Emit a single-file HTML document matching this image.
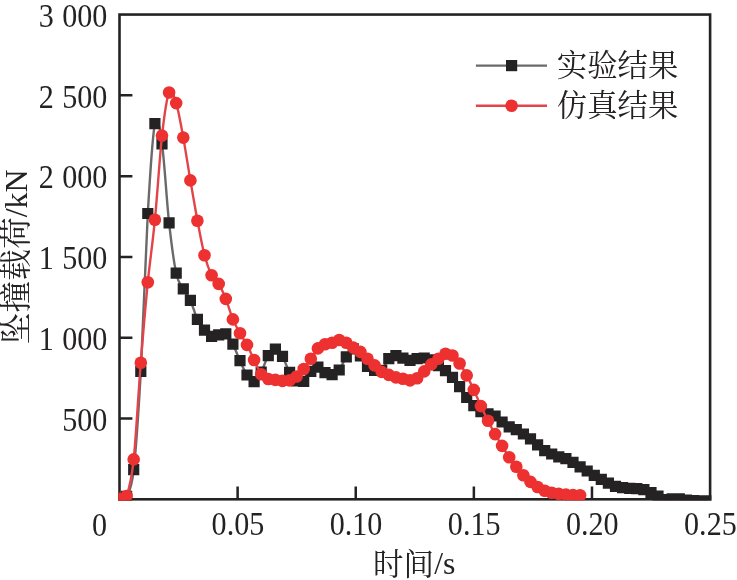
<!DOCTYPE html><html><head><meta charset="utf-8"><title>chart</title><style>html,body{margin:0;padding:0;background:#fff}svg{display:block;will-change:transform}text{font-family:"Liberation Serif","Noto Serif CJK SC",serif;fill:#252223}</style></head><body>
<svg width="737" height="580" viewBox="0 0 737 580">
<rect width="737" height="580" fill="#fff"/>
<defs><clipPath id="c"><rect x="118.20" y="13.25" width="593.20" height="487.35"/></clipPath></defs>
<rect x="119.50" y="14.55" width="590.60" height="484.75" fill="none" stroke="#252223" stroke-width="2.60"/>
<path d="M237.62 499.30V486.40M355.74 499.30V486.40M473.86 499.30V486.40M591.98 499.30V486.40M119.50 418.51H132.40M119.50 337.72H132.40M119.50 256.93H132.40M119.50 176.13H132.40M119.50 95.34H132.40" stroke="#252223" stroke-width="2.50" fill="none"/>
<g clip-path="url(#c)">
<path d="M119.5 498.4C120.7 498.1 124.2 501.2 126.6 496.4C128.9 491.7 131.3 490.6 133.7 469.8C136.0 448.9 138.4 414.2 140.8 371.6C143.1 328.9 145.5 254.9 147.8 213.5C150.2 172.2 152.6 135.2 154.9 123.7C157.3 112.1 159.7 127.4 162.0 143.9C164.4 160.5 166.7 201.3 169.1 222.8C171.5 244.4 173.8 262.1 176.2 273.1C178.5 284.2 180.9 284.4 183.3 288.9C185.6 293.5 188.0 295.4 190.4 300.4C192.7 305.5 195.1 314.5 197.4 319.4C199.8 324.4 202.2 327.3 204.5 330.1C206.9 333.0 209.3 335.5 211.6 336.3C214.0 337.1 216.3 335.3 218.7 334.9C221.1 334.6 223.4 332.4 225.8 333.9C228.2 335.5 230.5 339.8 232.9 344.2C235.2 348.7 237.6 355.6 240.0 360.8C242.3 365.9 244.7 371.6 247.0 375.1C249.4 378.6 251.8 382.2 254.1 381.8C256.5 381.2 258.9 376.4 261.2 372.1C263.6 367.7 265.9 359.5 268.3 355.6C270.7 351.8 273.0 349.0 275.4 349.1C277.8 349.3 280.1 352.6 282.5 356.4C284.8 360.3 287.2 368.4 289.6 372.4C291.9 376.5 294.3 379.4 296.6 380.9C299.0 382.4 301.4 383.0 303.7 381.4C306.1 379.9 308.5 373.8 310.8 371.4C313.2 369.1 315.5 367.1 317.9 367.2C320.3 367.4 322.6 371.4 325.0 372.6C327.4 373.9 329.7 375.2 332.1 374.8C334.4 374.3 336.8 373.0 339.2 370.1C341.5 367.1 343.9 360.5 346.3 356.9C348.6 353.4 351.0 349.0 353.3 348.8C355.7 348.7 358.1 352.9 360.4 355.8C362.8 358.8 365.1 364.1 367.5 366.6C369.9 369.0 372.2 369.8 374.6 370.4C377.0 371.1 379.3 372.4 381.7 370.4C384.0 368.5 386.4 361.1 388.8 358.6C391.1 356.2 393.5 355.7 395.9 355.6C398.2 355.6 400.6 357.4 402.9 358.1C405.3 358.9 407.7 360.3 410.0 360.3C412.4 360.4 414.8 359.0 417.1 358.6C419.5 358.3 421.8 357.8 424.2 358.1C426.6 358.3 428.9 358.7 431.3 359.9C433.6 361.2 436.0 364.0 438.4 365.8C440.7 367.5 443.1 368.7 445.5 370.6C447.8 372.6 450.2 374.8 452.5 377.4C454.9 380.1 457.3 383.4 459.6 386.8C462.0 390.1 464.4 394.4 466.7 397.6C469.1 400.7 471.4 403.4 473.8 405.8C476.2 408.1 478.5 410.3 480.9 411.6C483.2 413.0 485.6 413.1 488.0 413.8C490.3 414.6 492.7 414.7 495.1 416.1C497.4 417.4 499.8 420.2 502.1 422.1C504.5 423.9 506.9 425.6 509.2 426.8C511.6 428.1 514.0 428.6 516.3 429.8C518.7 430.9 521.0 432.5 523.4 434.1C525.8 435.6 528.1 437.0 530.5 438.8C532.9 440.7 535.2 443.0 537.6 444.9C539.9 446.9 542.3 449.1 544.7 450.6C547.0 452.2 549.4 453.0 551.7 454.1C554.1 455.1 556.5 456.2 558.8 456.9C561.2 457.7 563.6 457.9 565.9 458.8C568.3 459.6 570.6 461.0 573.0 462.3C575.4 463.7 577.7 465.4 580.1 466.8C582.5 468.3 584.8 469.6 587.2 471.1C589.5 472.5 591.9 474.0 594.3 475.3C596.6 476.7 599.0 478.0 601.3 479.3C603.7 480.7 606.1 482.1 608.4 483.2C610.8 484.4 613.2 485.7 615.5 486.4C617.9 487.2 620.2 487.4 622.6 487.8C625.0 488.1 627.3 488.2 629.7 488.3C632.1 488.5 634.4 488.4 636.8 488.6C639.1 488.9 641.5 489.0 643.9 489.6C646.2 490.3 648.6 491.6 651.0 492.8C653.3 493.9 655.7 495.1 658.0 496.2C660.4 497.4 662.8 499.1 665.1 499.6C667.5 500.0 669.8 499.1 672.2 498.9C674.6 498.8 676.9 498.8 679.3 498.9C681.7 499.1 684.0 499.8 686.4 500.1C688.7 500.3 691.1 500.5 693.5 500.6C695.8 500.8 698.2 500.8 700.6 500.8C702.9 500.9 706.5 500.8 707.6 500.8" fill="none" stroke="#6a6a6a" stroke-width="2.40"/>
<path d="M113.9 492.8h11.2v11.2h-11.2zM121.0 490.8h11.2v11.2h-11.2zM128.1 464.1h11.2v11.2h-11.2zM135.2 365.9h11.2v11.2h-11.2zM142.2 207.9h11.2v11.2h-11.2zM149.3 118.1h11.2v11.2h-11.2zM156.4 138.3h11.2v11.2h-11.2zM163.5 217.2h11.2v11.2h-11.2zM170.6 267.5h11.2v11.2h-11.2zM177.7 283.3h11.2v11.2h-11.2zM184.8 294.8h11.2v11.2h-11.2zM191.8 313.8h11.2v11.2h-11.2zM198.9 324.5h11.2v11.2h-11.2zM206.0 330.7h11.2v11.2h-11.2zM213.1 329.3h11.2v11.2h-11.2zM220.2 328.3h11.2v11.2h-11.2zM227.3 338.6h11.2v11.2h-11.2zM234.4 355.1h11.2v11.2h-11.2zM241.4 369.4h11.2v11.2h-11.2zM248.5 376.1h11.2v11.2h-11.2zM255.6 366.4h11.2v11.2h-11.2zM262.7 350.0h11.2v11.2h-11.2zM269.8 343.5h11.2v11.2h-11.2zM276.9 350.8h11.2v11.2h-11.2zM284.0 366.8h11.2v11.2h-11.2zM291.0 375.3h11.2v11.2h-11.2zM298.1 375.8h11.2v11.2h-11.2zM305.2 365.8h11.2v11.2h-11.2zM312.3 361.6h11.2v11.2h-11.2zM319.4 367.0h11.2v11.2h-11.2zM326.5 369.1h11.2v11.2h-11.2zM333.6 364.4h11.2v11.2h-11.2zM340.7 351.3h11.2v11.2h-11.2zM347.7 343.2h11.2v11.2h-11.2zM354.8 350.2h11.2v11.2h-11.2zM361.9 360.9h11.2v11.2h-11.2zM369.0 364.8h11.2v11.2h-11.2zM376.1 364.8h11.2v11.2h-11.2zM383.2 353.0h11.2v11.2h-11.2zM390.3 350.0h11.2v11.2h-11.2zM397.3 352.5h11.2v11.2h-11.2zM404.4 354.7h11.2v11.2h-11.2zM411.5 353.0h11.2v11.2h-11.2zM418.6 352.4h11.2v11.2h-11.2zM425.7 354.3h11.2v11.2h-11.2zM432.8 360.1h11.2v11.2h-11.2zM439.9 365.0h11.2v11.2h-11.2zM446.9 371.8h11.2v11.2h-11.2zM454.0 381.1h11.2v11.2h-11.2zM461.1 391.9h11.2v11.2h-11.2zM468.2 400.1h11.2v11.2h-11.2zM475.3 406.0h11.2v11.2h-11.2zM482.4 408.2h11.2v11.2h-11.2zM489.5 410.4h11.2v11.2h-11.2zM496.5 416.4h11.2v11.2h-11.2zM503.6 421.2h11.2v11.2h-11.2zM510.7 424.1h11.2v11.2h-11.2zM517.8 428.4h11.2v11.2h-11.2zM524.9 433.2h11.2v11.2h-11.2zM532.0 439.3h11.2v11.2h-11.2zM539.1 445.0h11.2v11.2h-11.2zM546.1 448.4h11.2v11.2h-11.2zM553.2 451.3h11.2v11.2h-11.2zM560.3 453.1h11.2v11.2h-11.2zM567.4 456.7h11.2v11.2h-11.2zM574.5 461.2h11.2v11.2h-11.2zM581.6 465.4h11.2v11.2h-11.2zM588.7 469.7h11.2v11.2h-11.2zM595.7 473.7h11.2v11.2h-11.2zM602.8 477.6h11.2v11.2h-11.2zM609.9 480.8h11.2v11.2h-11.2zM617.0 482.1h11.2v11.2h-11.2zM624.1 482.7h11.2v11.2h-11.2zM631.2 483.0h11.2v11.2h-11.2zM638.3 484.0h11.2v11.2h-11.2zM645.4 487.1h11.2v11.2h-11.2zM652.4 490.6h11.2v11.2h-11.2zM659.5 493.9h11.2v11.2h-11.2zM666.6 493.3h11.2v11.2h-11.2zM673.7 493.3h11.2v11.2h-11.2zM680.8 494.4h11.2v11.2h-11.2zM687.9 495.0h11.2v11.2h-11.2zM695.0 495.2h11.2v11.2h-11.2zM702.0 495.2h11.2v11.2h-11.2z" fill="#252223"/>
<path d="M119.5 498.9C120.7 498.4 124.2 502.6 126.6 496.0C128.9 489.4 131.3 481.6 133.7 459.4C136.0 437.2 138.4 392.3 140.8 362.8C143.1 333.3 145.5 306.0 147.8 282.2C150.2 258.4 152.6 244.1 154.9 219.7C157.3 195.3 159.7 156.8 162.0 135.6C164.4 114.4 166.7 97.9 169.1 92.5C171.5 87.1 173.8 95.6 176.2 103.1C178.5 110.6 180.9 124.7 183.3 137.6C185.6 150.5 188.0 166.6 190.4 180.4C192.7 194.2 195.1 208.2 197.4 220.7C199.8 233.2 202.2 246.2 204.5 255.3C206.9 264.4 209.3 270.4 211.6 275.2C214.0 280.0 216.3 279.9 218.7 283.9C221.1 287.8 223.4 293.0 225.8 298.9C228.2 304.8 230.5 313.7 232.9 319.4C235.2 325.1 237.6 328.9 240.0 333.2C242.3 337.4 244.7 340.4 247.0 344.9C249.4 349.4 251.8 355.1 254.1 360.0C256.5 364.9 258.9 371.1 261.2 374.3C263.6 377.5 265.9 378.1 268.3 379.0C270.7 379.9 273.0 379.6 275.4 379.9C277.8 380.2 280.1 380.8 282.5 380.9C284.8 381.0 287.2 381.1 289.6 380.4C291.9 379.7 294.3 378.4 296.6 376.5C299.0 374.6 301.4 372.0 303.7 369.0C306.1 366.0 308.5 362.1 310.8 358.7C313.2 355.3 315.5 350.8 317.9 348.4C320.3 346.0 322.6 345.2 325.0 344.3C327.4 343.4 329.7 343.5 332.1 342.8C334.4 342.1 336.8 340.0 339.2 340.0C341.5 340.0 343.9 341.5 346.3 342.8C348.6 344.1 351.0 346.1 353.3 347.6C355.7 349.1 358.1 350.0 360.4 351.9C362.8 353.8 365.1 356.5 367.5 358.8C369.9 361.0 372.2 363.2 374.6 365.4C377.0 367.6 379.3 370.3 381.7 371.9C384.0 373.5 386.4 374.0 388.8 374.9C391.1 375.8 393.5 376.8 395.9 377.4C398.2 378.0 400.6 378.2 402.9 378.7C405.3 379.2 407.7 380.5 410.0 380.4C412.4 380.3 414.8 379.7 417.1 378.2C419.5 376.7 421.8 373.7 424.2 371.4C426.6 369.1 428.9 366.5 431.3 364.4C433.6 362.3 436.0 360.5 438.4 358.7C440.7 356.9 443.1 354.3 445.5 353.8C447.8 353.3 450.2 353.9 452.5 355.5C454.9 357.1 457.3 360.2 459.6 363.5C462.0 366.8 464.4 371.0 466.7 375.4C469.1 379.8 471.4 384.8 473.8 389.9C476.2 395.0 478.5 400.9 480.9 406.1C483.2 411.2 485.6 416.1 488.0 420.8C490.3 425.5 492.7 429.9 495.1 434.1C497.4 438.3 499.8 442.0 502.1 445.9C504.5 449.8 506.9 453.8 509.2 457.3C511.6 460.8 514.0 463.7 516.3 466.7C518.7 469.7 521.0 472.7 523.4 475.2C525.8 477.7 528.1 479.9 530.5 481.9C532.9 483.9 535.2 485.5 537.6 487.0C539.9 488.5 542.3 489.7 544.7 490.7C547.0 491.7 549.4 492.3 551.7 492.8C554.1 493.3 556.5 493.6 558.8 493.9C561.2 494.2 563.6 494.4 565.9 494.6C568.3 494.8 570.6 494.9 573.0 495.0C575.4 495.1 578.9 495.2 580.1 495.2" fill="none" stroke="#e2444a" stroke-width="2.40"/>
<g fill="#ed3030">
<circle cx="119.5" cy="498.9" r="6.30"/>
<circle cx="126.6" cy="496.0" r="6.30"/>
<circle cx="133.7" cy="459.4" r="6.30"/>
<circle cx="140.8" cy="362.8" r="6.30"/>
<circle cx="147.8" cy="282.2" r="6.30"/>
<circle cx="154.9" cy="219.7" r="6.30"/>
<circle cx="162.0" cy="135.6" r="6.30"/>
<circle cx="169.1" cy="92.5" r="6.30"/>
<circle cx="176.2" cy="103.1" r="6.30"/>
<circle cx="183.3" cy="137.6" r="6.30"/>
<circle cx="190.4" cy="180.4" r="6.30"/>
<circle cx="197.4" cy="220.7" r="6.30"/>
<circle cx="204.5" cy="255.3" r="6.30"/>
<circle cx="211.6" cy="275.2" r="6.30"/>
<circle cx="218.7" cy="283.9" r="6.30"/>
<circle cx="225.8" cy="298.9" r="6.30"/>
<circle cx="232.9" cy="319.4" r="6.30"/>
<circle cx="240.0" cy="333.2" r="6.30"/>
<circle cx="247.0" cy="344.9" r="6.30"/>
<circle cx="254.1" cy="360.0" r="6.30"/>
<circle cx="261.2" cy="374.3" r="6.30"/>
<circle cx="268.3" cy="379.0" r="6.30"/>
<circle cx="275.4" cy="379.9" r="6.30"/>
<circle cx="282.5" cy="380.9" r="6.30"/>
<circle cx="289.6" cy="380.4" r="6.30"/>
<circle cx="296.6" cy="376.5" r="6.30"/>
<circle cx="303.7" cy="369.0" r="6.30"/>
<circle cx="310.8" cy="358.7" r="6.30"/>
<circle cx="317.9" cy="348.4" r="6.30"/>
<circle cx="325.0" cy="344.3" r="6.30"/>
<circle cx="332.1" cy="342.8" r="6.30"/>
<circle cx="339.2" cy="340.0" r="6.30"/>
<circle cx="346.3" cy="342.8" r="6.30"/>
<circle cx="353.3" cy="347.6" r="6.30"/>
<circle cx="360.4" cy="351.9" r="6.30"/>
<circle cx="367.5" cy="358.8" r="6.30"/>
<circle cx="374.6" cy="365.4" r="6.30"/>
<circle cx="381.7" cy="371.9" r="6.30"/>
<circle cx="388.8" cy="374.9" r="6.30"/>
<circle cx="395.9" cy="377.4" r="6.30"/>
<circle cx="402.9" cy="378.7" r="6.30"/>
<circle cx="410.0" cy="380.4" r="6.30"/>
<circle cx="417.1" cy="378.2" r="6.30"/>
<circle cx="424.2" cy="371.4" r="6.30"/>
<circle cx="431.3" cy="364.4" r="6.30"/>
<circle cx="438.4" cy="358.7" r="6.30"/>
<circle cx="445.5" cy="353.8" r="6.30"/>
<circle cx="452.5" cy="355.5" r="6.30"/>
<circle cx="459.6" cy="363.5" r="6.30"/>
<circle cx="466.7" cy="375.4" r="6.30"/>
<circle cx="473.8" cy="389.9" r="6.30"/>
<circle cx="480.9" cy="406.1" r="6.30"/>
<circle cx="488.0" cy="420.8" r="6.30"/>
<circle cx="495.1" cy="434.1" r="6.30"/>
<circle cx="502.1" cy="445.9" r="6.30"/>
<circle cx="509.2" cy="457.3" r="6.30"/>
<circle cx="516.3" cy="466.7" r="6.30"/>
<circle cx="523.4" cy="475.2" r="6.30"/>
<circle cx="530.5" cy="481.9" r="6.30"/>
<circle cx="537.6" cy="487.0" r="6.30"/>
<circle cx="544.7" cy="490.7" r="6.30"/>
<circle cx="551.7" cy="492.8" r="6.30"/>
<circle cx="558.8" cy="493.9" r="6.30"/>
<circle cx="565.9" cy="494.6" r="6.30"/>
<circle cx="573.0" cy="495.0" r="6.30"/>
<circle cx="580.1" cy="495.2" r="6.30"/>
</g></g>
<path d="M475.9 65.6H547.0" stroke="#6a6a6a" stroke-width="2.40"/>
<rect x="506.00" y="60.00" width="11.20" height="11.20" fill="#252223"/>
<path d="M475.9 105.7H547.0" stroke="#e2444a" stroke-width="2.40"/>
<circle cx="511.6" cy="105.7" r="6.30" fill="#ed3030"/>
<text x="556.80" y="76.30" font-size="30.40" text-anchor="start" style="white-space:pre;">实验结果</text>
<text x="556.80" y="116.30" font-size="30.40" text-anchor="start" style="white-space:pre;">仿真结果</text>
<text x="373.00" y="575.00" font-size="30.50" text-anchor="start" style="white-space:pre;">时间</text>
<text transform="translate(434.20 574.00)" font-size="31.80" text-anchor="start" style="white-space:pre;">/s</text>
<text transform="translate(26.80 344.30) rotate(-90)" font-size="31.40" text-anchor="start" textLength="127" lengthAdjust="spacing" style="white-space:pre;">坠撞载荷</text>
<text transform="translate(27.40 217.30) rotate(-90)" font-size="32.00" text-anchor="start" style="white-space:pre;">/kN</text>
<text transform="translate(107.40 430.71) scale(0.9040 1.0000)" font-size="33.30" text-anchor="end" style="white-space:pre;word-spacing:0.900px;">500</text>
<text transform="translate(107.40 349.92) scale(0.9040 1.0000)" font-size="33.30" text-anchor="end" style="white-space:pre;word-spacing:0.900px;">1 000</text>
<text transform="translate(107.40 269.12) scale(0.9040 1.0000)" font-size="33.30" text-anchor="end" style="white-space:pre;word-spacing:0.900px;">1 500</text>
<text transform="translate(107.40 188.33) scale(0.9040 1.0000)" font-size="33.30" text-anchor="end" style="white-space:pre;word-spacing:0.900px;">2 000</text>
<text transform="translate(107.40 107.54) scale(0.9040 1.0000)" font-size="33.30" text-anchor="end" style="white-space:pre;word-spacing:0.900px;">2 500</text>
<text transform="translate(107.40 26.75) scale(0.9040 1.0000)" font-size="33.30" text-anchor="end" style="white-space:pre;word-spacing:0.900px;">3 000</text>
<text transform="translate(99.50 535.70) scale(0.9040 1.0000)" font-size="33.30" text-anchor="middle" style="white-space:pre;">0</text>
<text transform="translate(237.92 535.20) scale(0.9040 1.0000)" font-size="33.30" text-anchor="middle" style="white-space:pre;">0.05</text>
<text transform="translate(356.04 535.20) scale(0.9040 1.0000)" font-size="33.30" text-anchor="middle" style="white-space:pre;">0.10</text>
<text transform="translate(474.16 535.20) scale(0.9040 1.0000)" font-size="33.30" text-anchor="middle" style="white-space:pre;">0.15</text>
<text transform="translate(592.28 535.20) scale(0.9040 1.0000)" font-size="33.30" text-anchor="middle" style="white-space:pre;">0.20</text>
<text transform="translate(710.40 535.20) scale(0.9040 1.0000)" font-size="33.30" text-anchor="middle" style="white-space:pre;">0.25</text>
</svg></body></html>
